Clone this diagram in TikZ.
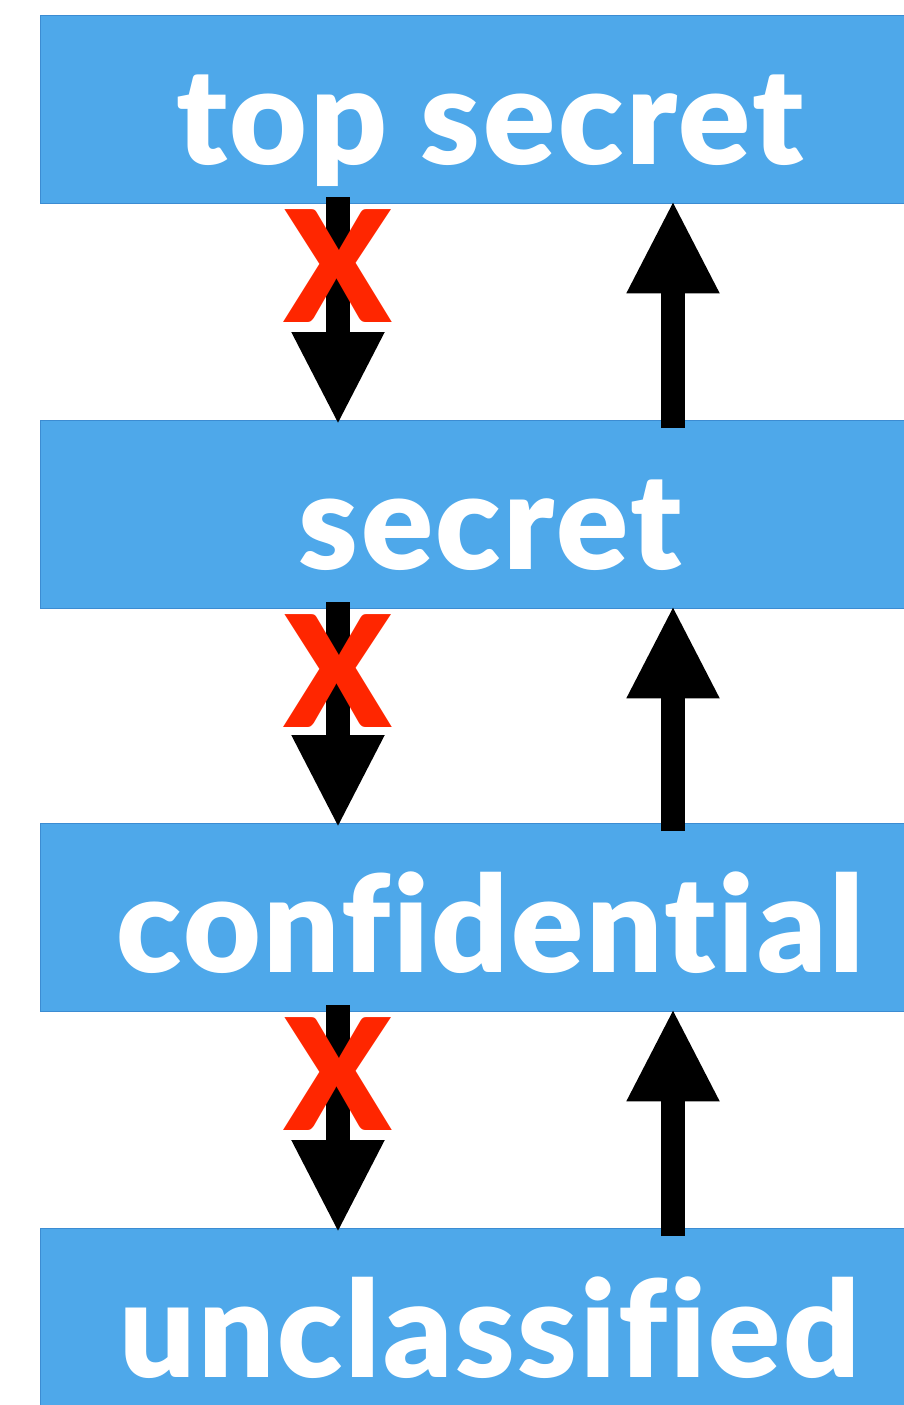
\documentclass[tikz,border=0pt]{standalone}
\usepackage{fontspec}
\usepackage{tikz}
\usetikzlibrary{arrows.meta,positioning}
\usepackage{xcolor}
\IfFontExistsTF{Lato Black}
  {\newfontfamily\lvlfont{Lato Black}[Ligatures=NoCommon, LetterSpace=2]}
  {\newfontfamily\lvlfont{Lato}[UprightFont={* Bold}, Ligatures=NoCommon, LetterSpace=2]}
\definecolor{lvlblue}{RGB}{78,168,234}
\definecolor{lvlline}{RGB}{60,140,210}
\definecolor{xred}{RGB}{255,38,0}

\begin{document}
\begin{tikzpicture}[x=1pt, y=-1pt,
  level/.style={draw=lvlline, fill=lvlblue, anchor=north west, inner sep=0pt,
                minimum width=900pt, minimum height=188pt,
                text height=110pt, text depth=0pt, text=white,
                font=\lvlfont\fontsize{134}{134}\selectfont},
  cross/.style={text=xred, inner sep=0pt, font=\lvlfont\fontsize{155}{155}\selectfont},
  arrow/.style={line width=24pt, -{Triangle[width=86pt, length=93pt]}}
]
\useasboundingbox (0,0) rectangle (903,1405);

%% Levels
\node[level] (ts) at (40,15)   {top secret};
\node[level] (sc) at (40,420)  {secret};
\node[level] (cf) at (40,823)  {confidential};
\node[level] (uc) at (40,1228) {unclassified};

%% No read down
\draw[arrow] ([xshift=298pt, yshift=6pt]ts.south west) -- ([xshift=298pt, yshift=-5pt]sc.north west);
\draw[arrow] ([xshift=298pt, yshift=6pt]sc.south west) -- ([xshift=298pt, yshift=-5pt]cf.north west);
\draw[arrow] ([xshift=298pt, yshift=6pt]cf.south west) -- ([xshift=298pt, yshift=-5pt]uc.north west);

\node[cross] (x1) at ([xshift=298pt, yshift=-63pt]ts.south west) {X};
\node[cross] (x2) at ([xshift=298pt, yshift=-63pt]sc.south west) {X};
\node[cross] (x3) at ([xshift=298pt, yshift=-63pt]cf.south west) {X};

%% Read up
\draw[arrow] ([xshift=633pt, yshift=-8pt]sc.north west) -- ([xshift=633pt, yshift=3pt]ts.south west);
\draw[arrow] ([xshift=633pt, yshift=-8pt]cf.north west) -- ([xshift=633pt, yshift=3pt]sc.south west);
\draw[arrow] ([xshift=633pt, yshift=-8pt]uc.north west) -- ([xshift=633pt, yshift=3pt]cf.south west);

\end{tikzpicture}
\end{document}
